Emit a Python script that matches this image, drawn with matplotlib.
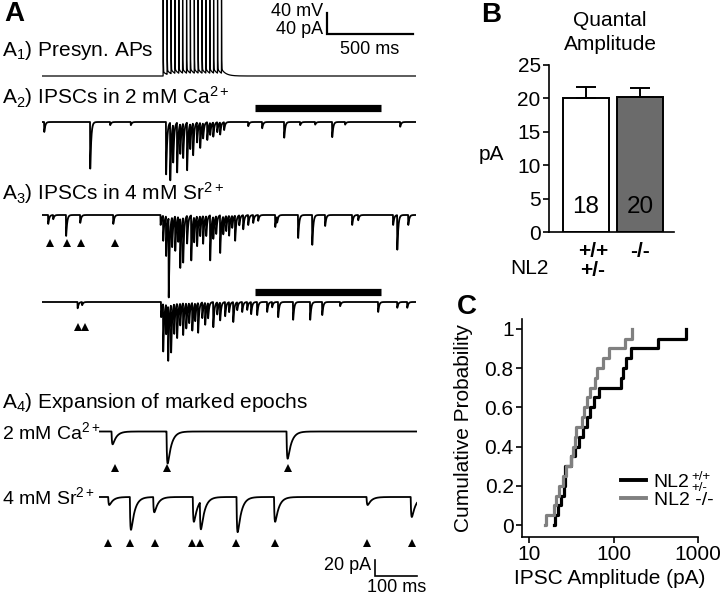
import numpy as np
import matplotlib
matplotlib.use('Agg')
import matplotlib.pyplot as plt
from matplotlib.lines import Line2D

plt.rcParams['font.family'] = ['Liberation Sans', 'DejaVu Sans']
plt.rcParams['mathtext.fontset'] = 'custom'
plt.rcParams['mathtext.rm'] = 'Liberation Sans'
plt.rcParams['mathtext.it'] = 'Liberation Sans:italic'
plt.rcParams['mathtext.bf'] = 'Liberation Sans:bold'

# ---------------- data ----------------
# A1: presynaptic action potential times (ms)
ap_times = [704, 727, 750, 772, 795, 817, 840, 862, 885, 907, 930, 952, 975, 997, 1020, 1043]
ap_peak = 160.0   # mV above rest
ap_adp = 8.0      # mV afterdepolarisation per spike

# A2: IPSCs in 2 mM Ca (event time ms, amplitude pA)
a2_t = [12, 279, 395, 515, 720, 744, 761, 784, 802, 819, 842, 860, 877, 900, 918, 935, 959, 976,
        994, 1017, 1034, 1057, 1197, 1278, 1406, 1499, 1586, 1685, 1760, 2080]
a2_amp = [19, 89, 6, 6, 100, 110, 72, 95, 57, 66, 91, 48, 61, 38, 48, 29, 34, 23,
          27, 19, 23, 15, 8, 12, 30, 6, 5, 29, 5, 9]

# A3 (first sweep): IPSCs in 4 mM Sr
a3a_t = [35, 64, 139, 221, 413, 688, 703, 720, 735, 755, 773, 790, 802, 819, 842, 866, 883, 900,
         918, 935, 953, 976, 994, 1011, 1034, 1052, 1069, 1086, 1104, 1121, 1145, 1168, 1197,
         1226, 1255, 1354, 1365, 1487, 1569, 1644, 1801, 1836, 2039, 2063, 2127]
a3a_amp = [17, 8, 40, 15, 17, 19, 48, 76, 152, 57, 66, 48, 95, 86, 53, 86, 48, 57,
           38, 53, 38, 86, 42, 34, 72, 34, 29, 38, 23, 48, 19, 27, 19,
           15, 11, 23, 11, 44, 57, 21, 19, 10, 19, 66, 19]

# A3 (second sweep)
a3b_t = [206, 232, 691, 703, 720, 732, 749, 767, 784, 802, 819, 837, 854, 872, 889, 906, 930,
         947, 964, 994, 1017, 1034, 1063, 1086, 1110, 1133, 1162, 1191, 1214, 1249, 1307, 1336,
         1371, 1458, 1557, 1627, 1731, 1952, 2063, 2121]
a3b_amp = [12, 6, 29, 91, 57, 105, 91, 57, 66, 42, 61, 48, 38, 53, 34, 57, 30,
           42, 29, 48, 23, 34, 27, 19, 38, 15, 19, 15, 23, 25, 19, 10,
           29, 34, 34, 25, 8, 19, 11, 11]

# arrowheads (ms)
a3a_marks = [46, 145, 227, 424]
a3b_marks = [209, 250]
epoch = [1237, 1970]

# A4: expanded epochs (ms, pA)
a4ca_t = [30, 162, 450]
a4ca_amp = [16, 40, 34]
a4ca_marks = [38, 162, 454]
a4sr_t = [22, 74, 130, 225, 242, 330, 420, 642, 748]
a4sr_amp = [10, 41, 19, 31, 35, 44, 31, 10, 25]
a4sr_marks = [22, 74, 134, 222, 242, 329, 423, 644, 752]

# B: quantal amplitude
b_means = [20.0, 20.15]
b_sems = [1.7, 1.45]
b_n = ['18', '20']

# C: cumulative distributions (pA)
c_wt = [19.5, 20.5, 22, 24, 26, 26.5, 27, 31, 35, 39, 44, 48, 52, 58, 67, 123, 128, 140, 160, 336, 730]
c_ko = [15.3, 16, 20, 21, 22.5, 25, 27.5, 31, 33, 35, 35.5, 42, 45, 48, 52, 60, 63, 75, 88, 135, 165]
c_yticks = [0, 0.2, 0.4, 0.6, 0.8, 1.0]
c_yticklabels = ['0', '0.2', '0.4', '0.6', '0.8', '1']
c_xticks = [10, 100, 1000]
c_xticklabels = ['10', '100', '1000']

# ---------------- helpers ----------------
W, H = 720, 596
fig = plt.figure(figsize=(7.2, 5.96), dpi=100)


def box(x0, y0, x1, y1):
    return [x0 / W, 1 - y1 / H, (x1 - x0) / W, (y1 - y0) / H]


def ftext(x, y, s, **kw):
    kw.setdefault('va', 'center')
    return fig.text(x / W, 1 - y / H, s, **kw)


def ipsc(t, times, amps, tau_d, tau_r):
    y = np.zeros_like(t)
    tp = tau_d * tau_r / (tau_d - tau_r) * np.log(tau_d / tau_r)
    norm = np.exp(-tp / tau_d) - np.exp(-tp / tau_r)
    for t0, a in zip(times, amps):
        m = t >= t0
        d = t[m] - t0
        y[m] -= a * (np.exp(-d / tau_d) - np.exp(-d / tau_r)) / norm
    return y


FS = 15
LW = 1.3

# ---------------- Panel A (A1-A3) ----------------
msp = 5.81   # ms per pixel
upp = 1.9    # units per pixel
axA = fig.add_axes(box(42, 0, 416, 365))
axA.set_xlim(0, 374 * msp)
axA.set_ylim(-(365 - 76) * upp, 76 * upp)
axA.axis('off')

t = np.arange(0, 374 * msp, 0.5)
v = np.zeros_like(t)
for t0 in ap_times:
    m = t >= t0
    d = t[m] - t0
    v[m] += ap_peak * np.exp(-d / 0.7) + ap_adp * np.exp(-d / 25)
axA.plot(t, v, color='black', lw=0.9)

off_a2 = -(122 - 76) * upp
off_a3a = -(215 - 76) * upp
off_a3b = -(302 - 76) * upp
axA.plot(t, off_a2 + ipsc(t, a2_t, a2_amp, 5.5, 0.5), color='black', lw=LW)
axA.plot(t, off_a3a + ipsc(t, a3a_t, a3a_amp, 5.5, 0.5), color='black', lw=LW)
axA.plot(t, off_a3b + ipsc(t, a3b_t, a3b_amp, 5.5, 0.5), color='black', lw=LW)

axA.hlines([-(107.5 - 76) * upp, -(291.5 - 76) * upp], epoch[0], epoch[1], color='black', lw=5.2)
axA.plot(a3a_marks, [-(243 - 76) * upp] * len(a3a_marks), '^', color='black', ms=6, mew=0)
axA.plot(a3b_marks, [-(327 - 76) * upp] * len(a3b_marks), '^', color='black', ms=6, mew=0)

# scale bar 40 mV / 40 pA, 500 ms
sb_t = (327 - 42) * msp
sb_y = (76 - 34) * upp
axA.plot([sb_t, sb_t, sb_t + 500], [sb_y + 40, sb_y, sb_y], color='black', lw=1.6,
         solid_joinstyle='miter', clip_on=False)
ftext(323, 11, '40 mV', ha='right', fontsize=13)
ftext(323, 29, '40 pA', ha='right', fontsize=13)
ftext(370, 50, '500 ms', ha='center', fontsize=13)

ftext(4, 14, 'A', ha='left', fontsize=20, fontweight='bold')
ftext(2, 50, r'A$_1$) Presyn. APs', ha='left', fontsize=FS)
ftext(2, 97, r'A$_2$) IPSCs in 2 mM Ca$^{2+}$', ha='left', fontsize=FS)
ftext(2, 193, r'A$_3$) IPSCs in 4 mM Sr$^{2+}$', ha='left', fontsize=FS)
ftext(2, 402, r'A$_4$) Expansion of marked epochs', ha='left', fontsize=FS)

# ---------------- Panel A4 ----------------
msp4 = 2.4
upp4 = 1.25
axE = fig.add_axes(box(99, 415, 417, 596))
axE.set_xlim(0, 318 * msp4)
axE.set_ylim(-(596 - 431.5) * upp4, (431.5 - 415) * upp4)
axE.axis('off')
t4 = np.arange(0, 318 * msp4, 0.25)
off_sr = -(497 - 431.5) * upp4
axE.plot(t4, ipsc(t4, a4ca_t, a4ca_amp, 9, 1.2), color='black', lw=LW)
axE.plot(t4, off_sr + ipsc(t4, a4sr_t, a4sr_amp, 9, 1.2), color='black', lw=LW)
axE.plot(a4ca_marks, [-(468 - 431.5) * upp4] * len(a4ca_marks), '^', color='black', ms=6, mew=0)
axE.plot(a4sr_marks, [-(542.5 - 431.5) * upp4] * len(a4sr_marks), '^', color='black', ms=6, mew=0)
sb4_t = (375 - 99) * msp4
sb4_y = -(576 - 431.5) * upp4
axE.plot([sb4_t, sb4_t, sb4_t + 100], [sb4_y + 20, sb4_y, sb4_y], color='black', lw=1.2,
         solid_joinstyle='miter', clip_on=False)
ftext(371, 566, '20 pA', ha='right', fontsize=13)
ftext(397, 588, '100 ms', ha='center', fontsize=13)
ftext(2, 432, r'2 mM Ca$^{2+}$', ha='left', fontsize=14)
ftext(2, 497, r'4 mM Sr$^{2+}$', ha='left', fontsize=14)

# ---------------- Panel B ----------------
axB = fig.add_axes(box(549, 65, 674, 232))
xb = np.arange(len(b_means))
axB.bar(xb, b_means, width=0.85, color=['white', '#6b6b6b'], edgecolor='black', linewidth=1.4,
        yerr=[[0, 0], b_sems], capsize=7,
        error_kw=dict(elinewidth=1.4, capthick=1.4, ecolor='black'), zorder=2)
for xi, s in zip(xb, b_n):
    axB.text(xi, 3.7, s, ha='center', va='center', fontsize=17.5)
axB.set_xlim(-0.685, 1.63)
axB.set_ylim(0, 25)
axB.set_yticks([0, 5, 10, 15, 20, 25])
axB.set_xticks([])
axB.spines['top'].set_visible(False)
axB.spines['right'].set_visible(False)
axB.spines['left'].set_linewidth(1.2)
axB.spines['bottom'].set_linewidth(1.2)
axB.tick_params(axis='y', labelsize=FS, length=4, width=1.2, pad=2)
ftext(481, 15, 'B', ha='left', fontsize=20, fontweight='bold')
ftext(610, 20, 'Quantal', ha='center', fontsize=FS)
ftext(610, 45, 'Amplitude', ha='center', fontsize=FS)
ftext(491, 155, 'pA', ha='center', fontsize=FS)
ftext(529, 268, 'NL2', ha='center', fontsize=FS)
ftext(593, 252, '+/+', ha='center', fontsize=FS, fontweight='bold')
ftext(593, 271, '+/-', ha='center', fontsize=FS, fontweight='bold')
ftext(640, 252, '-/-', ha='center', fontsize=FS, fontweight='bold')

# ---------------- Panel C ----------------
axC = fig.add_axes(box(522, 319, 698, 537))
yw = np.arange(len(c_wt)) / (len(c_wt) - 1)
yk = np.arange(len(c_ko)) / (len(c_ko) - 1)
axC.step(c_wt, yw, where='post', color='black', lw=2.3)
axC.step(c_ko, yk, where='post', color='#808080', lw=2.3)
axC.set_xscale('log')
axC.set_xlim(8.26, 1000)
axC.set_ylim(-0.061, 1.05)
axC.set_xticks(c_xticks)
axC.set_xticklabels(c_xticklabels)
axC.xaxis.set_minor_locator(matplotlib.ticker.NullLocator())
axC.set_yticks(c_yticks)
axC.set_yticklabels(c_yticklabels)
axC.spines['top'].set_visible(False)
axC.spines['right'].set_visible(False)
axC.spines['left'].set_linewidth(1.2)
axC.spines['bottom'].set_linewidth(1.2)
axC.tick_params(labelsize=FS, length=4, width=1.2, pad=2)
handles = [Line2D([], [], color='black', lw=2.8), Line2D([], [], color='#808080', lw=2.8)]
leg = axC.legend(handles, ['NL2', 'NL2 -/-'], loc='center left', frameon=False,
                 fontsize=14, handlelength=1.3, handletextpad=0.4, labelspacing=0.05,
                 bbox_to_anchor=((603 - 522) / 176, (537 - 491) / 218))
fig.canvas.draw()
bb = leg.get_texts()[0].get_window_extent()
xr = bb.x1 + 2
yc = (bb.y0 + bb.y1) / 2
fig.text(xr / W, (yc + 5.5) / H, '+/+', fontsize=9.5, ha='left', va='center')
fig.text(xr / W, (yc - 5.5) / H, '+/-', fontsize=9.5, ha='left', va='center')
ftext(457, 307, 'C', ha='left', fontsize=20, fontweight='bold')
ftext(463, 428, 'Cumulative Probability', ha='center', rotation=90, fontsize=FS)
ftext(610, 578, 'IPSC Amplitude (pA)', ha='center', fontsize=FS)

fig.savefig('out.png', dpi=100)
